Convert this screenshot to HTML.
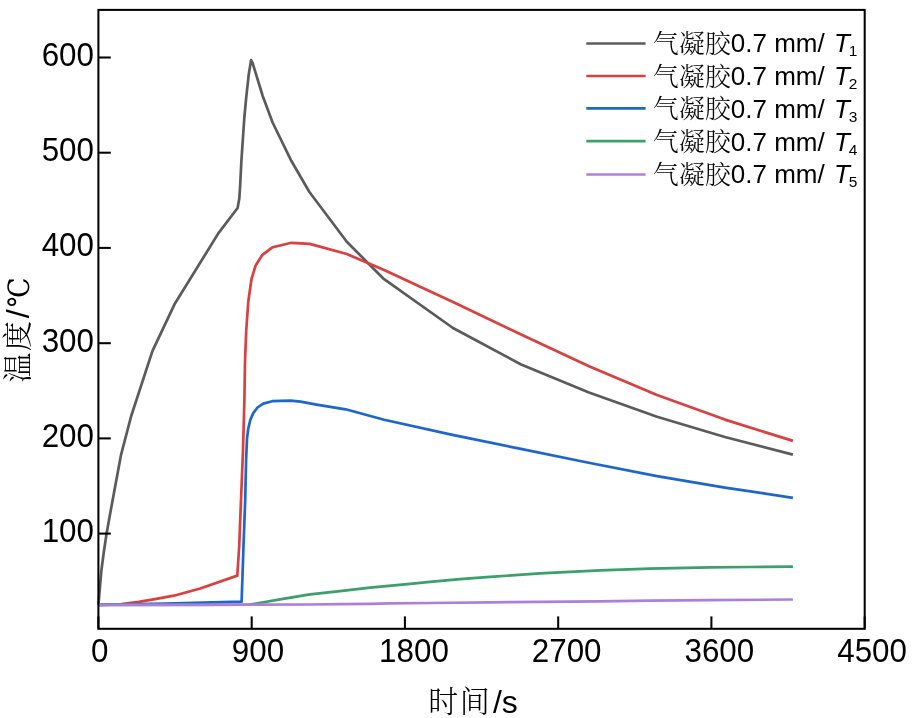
<!DOCTYPE html>
<html lang="zh">
<head>
<meta charset="utf-8">
<title>气凝胶0.7 mm 温度-时间曲线</title>
<style>
html,body{margin:0;padding:0;background:#fff;}
body{width:913px;height:718px;overflow:hidden;}
svg{display:block;will-change:transform;}
text{font-family:"Liberation Sans","Noto Serif CJK SC",sans-serif;fill:#000;}
.cjk{font-family:"Noto Serif CJK SC","Liberation Serif",serif;font-weight:300;}
.tick{font-size:32px;}
.axl{font-size:32px;}
.axc{font-size:30px;letter-spacing:1.4px;}
.leg{font-size:26px;}
.sub{font-size:15.5px;}
.degc{font-family:"DejaVu Serif","Noto Serif CJK SC",serif;font-size:29px;}
.it{font-style:italic;}
</style>
</head>
<body>
<svg width="913" height="718" viewBox="0 0 913 718">
<rect x="0" y="0" width="913" height="718" fill="#ffffff"/>

<g fill="none" stroke-width="2.70" stroke-linejoin="round" stroke-linecap="butt">
<path stroke="#5b5b5b" d="M98.4 604.9 L101.4 570.5 L103.8 552.0 L106.6 533.4 L110.0 514.4 L114.5 490.0 L120.9 455.4 L131.2 416.0 L152.4 351.2 L174.5 304.3 L218.3 233.4 L237.6 208.0 L239.3 198.5 L240.2 185.0 L241.3 162.4 L242.6 143.0 L244.3 118.0 L246.2 97.7 L248.7 74.8 L251.1 60.0 L252.6 63.0 L262.7 96.0 L272.6 122.5 L291.3 160.8 L309.4 192.0 L346.8 241.8 L384.1 279.2 L453.0 328.0 L521.1 364.5 L589.0 392.5 L657.0 416.8 L724.9 437.0 L792.9 454.6"/>
<path stroke="#d94040" d="M98.4 604.9 L121.3 604.1 L138.8 601.9 L156.3 598.9 L173.9 595.7 L200.2 588.5 L237.3 575.6 L239.2 546.0 L241.0 500.0 L243.0 450.0 L244.4 400.0 L245.0 362.0 L246.2 331.0 L248.3 301.5 L251.5 279.0 L255.5 265.8 L262.1 255.2 L272.7 247.2 L291.4 242.8 L309.7 243.9 L346.8 254.0 L384.1 270.0 L453.0 302.0 L521.1 334.5 L589.0 366.2 L657.0 394.9 L724.9 419.6 L792.9 440.9"/>
<path stroke="#1f66cc" d="M98.4 604.9 L165.0 603.7 L241.6 601.7 L243.5 546.0 L245.2 500.0 L246.1 460.0 L247.0 438.7 L248.2 429.0 L250.2 420.2 L253.1 413.4 L257.5 407.5 L263.3 403.6 L272.1 401.2 L290.6 400.6 L300.4 401.7 L318.0 404.8 L345.6 409.3 L384.1 419.8 L452.5 434.9 L520.8 448.9 L587.4 462.5 L657.0 476.1 L724.9 487.6 L792.9 497.8"/>
<path stroke="#3d9f6b" d="M98.4 604.9 L249.0 604.7 L265.0 602.0 L280.0 599.3 L310.0 594.4 L340.0 591.1 L370.0 587.7 L410.0 583.9 L430.0 581.8 L460.0 579.2 L490.0 576.9 L540.0 573.4 L570.0 571.9 L600.0 570.4 L650.0 568.7 L710.0 567.4 L750.0 567.0 L792.9 566.7"/>
<path stroke="#ac80da" d="M98.4 604.9 L200.0 604.9 L250.0 604.6 L310.0 604.5 L340.0 604.2 L370.0 603.9 L390.0 603.4 L430.0 603.0 L490.0 602.3 L540.0 601.8 L600.0 601.3 L650.0 600.6 L710.0 600.2 L792.9 599.5"/>
</g>
<rect x="98.4" y="9.9" width="766.3" height="618.9" fill="none" stroke="#000" stroke-width="2.05"/>
<g stroke="#000" stroke-width="2.05" fill="none">
<line x1="98.4" y1="628.8" x2="98.4" y2="616.4"/>
<line x1="251.7" y1="628.8" x2="251.7" y2="616.4"/>
<line x1="404.9" y1="628.8" x2="404.9" y2="616.4"/>
<line x1="558.2" y1="628.8" x2="558.2" y2="616.4"/>
<line x1="711.4" y1="628.8" x2="711.4" y2="616.4"/>
<line x1="864.7" y1="628.8" x2="864.7" y2="616.4"/>
<line x1="98.4" y1="533.6" x2="110.8" y2="533.6"/>
<line x1="98.4" y1="438.4" x2="110.8" y2="438.4"/>
<line x1="98.4" y1="343.2" x2="110.8" y2="343.2"/>
<line x1="98.4" y1="247.9" x2="110.8" y2="247.9"/>
<line x1="98.4" y1="152.7" x2="110.8" y2="152.7"/>
<line x1="98.4" y1="57.5" x2="110.8" y2="57.5"/>
</g>
<text class="tick" transform="translate(91.0 661.8) scale(0.98 1.045)">0</text>
<text class="tick" transform="translate(231.8 661.8) scale(0.98 1.045)">900</text>
<text class="tick" transform="translate(379.1 661.8) scale(0.98 1.045)">1800</text>
<text class="tick" transform="translate(531.8 661.8) scale(0.98 1.045)">2700</text>
<text class="tick" transform="translate(684.5 661.8) scale(0.98 1.045)">3600</text>
<text class="tick" transform="translate(837.2 661.8) scale(0.98 1.045)">4500</text>
<text class="tick" transform="translate(94.0 542.0) scale(0.98 1.045)" text-anchor="end">100</text>
<text class="tick" transform="translate(94.0 446.8) scale(0.98 1.045)" text-anchor="end">200</text>
<text class="tick" transform="translate(94.0 351.6) scale(0.98 1.045)" text-anchor="end">300</text>
<text class="tick" transform="translate(94.0 256.3) scale(0.98 1.045)" text-anchor="end">400</text>
<text class="tick" transform="translate(94.0 161.1) scale(0.98 1.045)" text-anchor="end">500</text>
<text class="tick" transform="translate(94.0 65.9) scale(0.98 1.045)" text-anchor="end">600</text>
<text class="cjk axc" x="428.3" y="712.2">时间</text>
<text class="axl" x="492.9" y="713">/s</text>
<g transform="rotate(-90)">
<text class="cjk axc" x="-382.4" y="27.9">温度</text>
<text class="axl" x="-318.2" y="28.5">/</text>
<text class="degc" transform="translate(-307.3 28.9) scale(0.92 1)">℃</text>
</g>
<g stroke-width="2.70" fill="none">
<line x1="586.3" y1="43.5" x2="645.6" y2="43.5" stroke="#5b5b5b"/>
<line x1="586.3" y1="76.0" x2="645.6" y2="76.0" stroke="#d94040"/>
<line x1="586.3" y1="108.4" x2="645.6" y2="108.4" stroke="#1f66cc"/>
<line x1="586.3" y1="141.2" x2="645.6" y2="141.2" stroke="#3d9f6b"/>
<line x1="586.3" y1="174.5" x2="645.6" y2="174.5" stroke="#ac80da"/>
</g>
<text class="leg" x="652.8" y="52.4"><tspan class="cjk" dy="0.5">气凝胶</tspan><tspan dy="-0.5">0.7 mm/ </tspan><tspan class="it" dx="2">T</tspan><tspan class="sub" dx="-1.2" dy="3.8">1</tspan></text>
<text class="leg" x="652.8" y="85.2"><tspan class="cjk" dy="0.5">气凝胶</tspan><tspan dy="-0.5">0.7 mm/ </tspan><tspan class="it" dx="2">T</tspan><tspan class="sub" dx="-1.2" dy="3.8">2</tspan></text>
<text class="leg" x="652.8" y="117.9"><tspan class="cjk" dy="0.5">气凝胶</tspan><tspan dy="-0.5">0.7 mm/ </tspan><tspan class="it" dx="2">T</tspan><tspan class="sub" dx="-1.2" dy="3.8">3</tspan></text>
<text class="leg" x="652.8" y="150.7"><tspan class="cjk" dy="0.5">气凝胶</tspan><tspan dy="-0.5">0.7 mm/ </tspan><tspan class="it" dx="2">T</tspan><tspan class="sub" dx="-1.2" dy="3.8">4</tspan></text>
<text class="leg" x="652.8" y="183.4"><tspan class="cjk" dy="0.5">气凝胶</tspan><tspan dy="-0.5">0.7 mm/ </tspan><tspan class="it" dx="2">T</tspan><tspan class="sub" dx="-1.2" dy="3.8">5</tspan></text>
</svg>
</body>
</html>
